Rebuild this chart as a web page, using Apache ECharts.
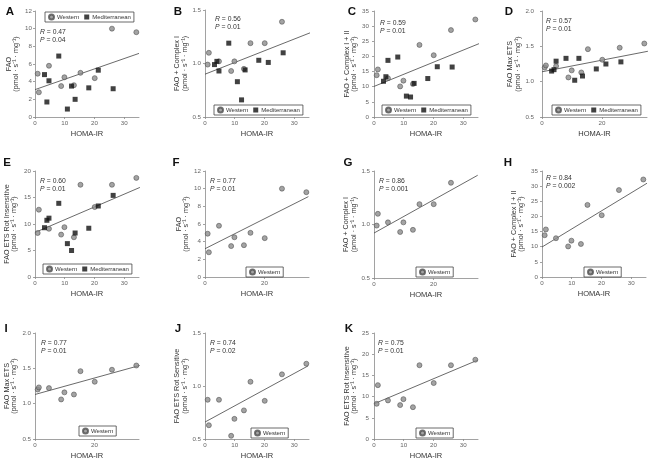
<!DOCTYPE html>
<html><head><meta charset="utf-8">
<script src="https://cdn.jsdelivr.net/npm/echarts@6/dist/echarts.min.js"></script>
<style>html,body{margin:0;padding:0;background:#fff}#c{width:650px;height:464px}</style>
</head><body><div id="c"></div>
<script>
// ---- data ----
const westernHoma = [0.9, 1.3, 4.7, 8.8, 9.9, 13.1, 15.3, 20.1, 25.9, 34.1];
const medHoma     = [3.2, 4.0, 4.7, 8.0, 10.9, 12.3, 13.5, 18.1, 21.3, 26.3];

const westernFAO   = [4.9, 2.8, 5.8, 3.5, 4.5, 3.6, 5.0, 4.4, 10.0, 9.6];
const westernCI    = [0.99, 1.10, 1.02, 0.93, 1.02, 0.95, 1.19, 1.19, 1.39, null];
const westernCII   = [13.8, 15.7, 12.8, 10.1, 12.0, 10.9, 23.8, 20.4, 28.7, 32.2];
const westernMax   = [1.20, 1.23, 1.22, 1.06, 1.16, 1.13, 1.46, 1.31, 1.48, 1.54];
const westernRotIn = [8.3, 12.7, 9.1, 8.0, 9.4, 7.5, 17.4, 13.2, 17.4, 18.7];
const westernRotS  = [0.87, 0.63, 0.87, 0.53, 0.69, 0.77, 1.04, 0.86, 1.11, 1.21];

const medFAO   = [4.8, 1.7, 4.1, 6.9, 0.9, 3.5, 2.0, 3.3, 5.3, 3.2];
const medCI    = [0.99, 1.02, 0.93, 1.19, 0.83, 0.66, 0.94, 1.03, 1.01, 1.10];
const medCII   = [11.8, 13.3, 18.7, 19.8, 6.9, 6.6, 11.1, 12.7, 16.6, 16.5];
const medMax   = [1.15, 1.17, 1.29, 1.33, 1.02, 1.33, 1.08, 1.18, 1.25, 1.28];
const medRotIn = [9.3, 10.7, 11.1, 13.9, 6.3, 5.0, 8.3, 9.2, 13.4, 15.4];

const panelLetters = ['A','B','C','D','E','F','G','H','I','J','K'];
const yTitles = ['FAO','FAO + Complex I','FAO + Complex I + II','FAO Max ETS','FAO ETS Rot Insensitive',
  'FAO','FAO + Complex I','FAO + Complex I + II','FAO Max ETS','FAO ETS Rot Sensitive','FAO ETS Rot Insensitive'];
const unitLabel = '(pmol · s⁻¹ · mg⁻¹)';
const xTitle = 'HOMA-IR';
const rValues = ['0.47','0.56','0.59','0.57','0.60','0.77','0.86','0.84','0.77','0.74','0.75'];
const pValues = ['0.04','0.01','0.01','0.01','0.01','0.01','0.001','0.002','0.01','0.02','0.01'];

const yMins      = [0, 0.5, 0, 0.5, 0, 0, 0.5, 0, 0.5, 0.5, 0];
const yMaxs      = [12, 1.5, 35, 2.0, 20, 12, 1.5, 35, 2.0, 1.5, 25];
const yIntervals = [2, 0.5, 5, 0.5, 5, 2, 0.5, 5, 0.5, 0.5, 5];
const xTickLabels = [[0,10,20,30],[0,10,20,30],[0,10,20,30],[0,20],[0,10,20,30],[0,20],[0,20],[0,10,20,30],[0,20],[0,10,20,30],[0,10,20,30]];

const westernSets = [westernFAO, westernCI, westernCII, westernMax, westernRotIn,
  westernFAO, westernCI, westernCII, westernMax, westernRotS, westernRotIn];
const medSets = [medFAO, medCI, medCII, medMax, medRotIn, null, null, null, null, null, null];

// regression lines: y at HOMA-IR 0 and at the line end
const trendStartY = [3.1, 0.90, 10.1, 1.14, 8.4, 3.2, 0.92, 9.9, 1.13, 0.66, 8.3];
const trendEndY   = [7.2, 1.31, 25.6, 1.43, 16.9, 9.1, 1.46, 31.0, 1.54, 1.19, 18.6];
const trendEndX   = [35, 37.5, 38.8, 35.3, 35.3, 34.8, 34.9, 35.4, 35.2, 34.7, 34.9];

// ---- layout ----
const gridBoxes = [
  [35,11,104,106],[205,10,104,107],[374,11,104,106],[542,11,105,106],
  [35,171,104,106],[205,171,104,106],[374,171,104,107],[542,171,104,106],
  [35,333,104,106],[205,333,104,106],[374,333,104,106]];
const nameGaps = [15,15,16,18,17,14,16,17,17,15,16];
const labelMargins = [3,4,5,8,4,4,4,4,4,4,5];
const legendPos = [[45,12],[214,105],[382,105],[552,105],[43,264],[246,267],[416,267],[584,267],[79,426],[251,428],[416,428]];
const letterPos = [[10,12],[178,12],[352,12],[509,12],[7,163],[176,163],[348,163],[508,163],[6,329],[178,329],[349,329]];
const statPos = [[40,32],[215,19],[380,23],[546,21],[40,181],[210,181],[379,181],[546,178],[41,343],[210,343],[378,343]];

const FONT = 'Liberation Sans, Arial, Helvetica, sans-serif';
const axisGray = '#8a8a8a';

const grid = [], xAxis = [], yAxis = [], series = [], legend = [], graphic = [];

panelLetters.forEach((L, i) => {
  const g = gridBoxes[i];
  grid.push({left:g[0], top:g[1], width:g[2], height:g[3], outerBoundsMode:'none', containLabel:false});
  xAxis.push({
    type:'value', gridIndex:i, min:0, max:35, interval:10,
    name:xTitle, nameLocation:'middle', nameGap:13,
    nameTextStyle:{fontFamily:FONT, fontSize:7.5, color:'#333'},
    axisLine:{lineStyle:{color:axisGray, width:0.8}},
    axisTick:{show:true, length:2, lineStyle:{color:axisGray, width:0.8}, customValues:xTickLabels[i]},
    axisLabel:{fontFamily:FONT, fontSize:6.2, color:'#666', margin:3, customValues:xTickLabels[i]},
    splitLine:{show:false}
  });
  const dec = yIntervals[i] < 1 ? 1 : 0;
  yAxis.push({
    type:'value', gridIndex:i, min:yMins[i], max:yMaxs[i], interval:yIntervals[i],
    name: yTitles[i] + '\n' + unitLabel, nameLocation:'middle', nameGap:nameGaps[i], nameRotate:90,
    nameTextStyle:{fontFamily:FONT, fontSize:7.2, color:'#333', lineHeight:7.5, align:'center'},
    axisLine:{show:true, lineStyle:{color:axisGray, width:0.8}},
    axisTick:{show:true, length:2, lineStyle:{color:axisGray, width:0.8}},
    axisLabel:{fontFamily:FONT, fontSize:6.2, color:'#666', margin:labelMargins[i],
      formatter: v => v.toFixed(dec)},
    splitLine:{show:false}
  });
  // trend line
  series.push({
    type:'line', xAxisIndex:i, yAxisIndex:i, symbol:'none', silent:true, clip:false,
    data:[[0, trendStartY[i]], [trendEndX[i], trendEndY[i]]],
    lineStyle:{color:'#444', width:0.8}, z:1
  });
  const w = westernSets[i];
  series.push({
    name:'Western', type:'scatter', xAxisIndex:i, yAxisIndex:i, symbol:'circle', symbolSize:5,
    data: westernHoma.map((x,k) => [x, w[k]]).filter(p => p[1] !== null),
    itemStyle:{color:'#8c8c8c', borderColor:'#4d4d4d', borderWidth:0.7}, z:3
  });
  const m = medSets[i];
  if (m) {
    series.push({
      name:'Mediterranean', type:'scatter', xAxisIndex:i, yAxisIndex:i, symbol:'rect', symbolSize:5,
      data: medHoma.map((x,k) => [x, m[k]]),
      itemStyle:{color:'#111'}, z:4
    });
  }
  legend.push({
    data: m ? ['Western','Mediterranean'] : ['Western'],
    left:legendPos[i][0], top:legendPos[i][1], orient:'horizontal',
    borderColor:'#444', borderWidth:0.8, borderRadius:0, padding:[1.5,3],
    itemWidth:5, itemHeight:5, itemGap:5, selectedMode:false,
    textStyle:{fontFamily:FONT, fontSize:6, color:'#333', padding:[0,0,0,-2]}
  });
  graphic.push({type:'text', x:letterPos[i][0], y:letterPos[i][1],
    style:{text:L, fontFamily:FONT, fontSize:11.5, fontWeight:'bold', fill:'#111', align:'center', verticalAlign:'middle'}});
  graphic.push({type:'text', x:statPos[i][0], y:statPos[i][1],
    style:{text:'{i|R} = ' + rValues[i], fontFamily:FONT, fontSize:6.8, fill:'#333', verticalAlign:'middle',
      rich:{i:{fontStyle:'italic', fontFamily:FONT, fontSize:6.8, fill:'#333'}}}});
  graphic.push({type:'text', x:statPos[i][0], y:statPos[i][1] + 8,
    style:{text:'{i|P} = ' + pValues[i], fontFamily:FONT, fontSize:6.8, fill:'#333', verticalAlign:'middle',
      rich:{i:{fontStyle:'italic', fontFamily:FONT, fontSize:6.8, fill:'#333'}}}});
});

const chart = echarts.init(document.getElementById('c'), null, {renderer:'canvas'});
chart.setOption({animation:false, backgroundColor:'#fff', grid, xAxis, yAxis, series, legend, graphic});
</script></body></html>
